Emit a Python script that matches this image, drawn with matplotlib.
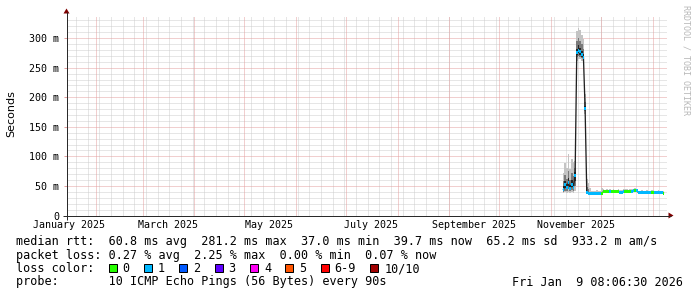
import matplotlib
matplotlib.use('Agg')
import matplotlib.pyplot as plt
import matplotlib.dates as mdates
from matplotlib.patches import Rectangle, Polygon
import pandas as pd
from datetime import datetime

W, H = 697, 297

# ---------------- data ----------------
t_start = datetime(2025, 1, 14, 8, 6, 30)
t_end = datetime(2026, 1, 9, 8, 6, 30)
first_sample = '2025-11-08 12:00'

median_ms = [44, 52, 47, 56, 45, 53, 48, 68,
             276, 280, 277, 273, 268, 181,
             39, 38, 37.7, 37.7, 37.7, 37.7, 37.7, 37.7, 37.7,
             38.0, 40.0, 40.2, 39.8, 40.1, 40.0, 40.3, 40.0, 39.8, 40.2, 40.0,
             39.6, 39.5, 39.8, 40.2, 40.4, 40.0, 40.3, 40.8, 41.5, 43.0, 41.5,
             39.2, 39.0, 39.0, 38.9, 39.0, 39.1, 39.0, 39.2, 39.5, 39.6,
             39.2, 39.3, 39.1, 39.4, 39.2, 38.0]
loss_bucket = [1, 1, 1, 1, 1, 1, 1, 1,
               1, 1, 1, 1, 1, 1,
               1, 1, 1, 1, 1, 1, 1, 1, 1,
               0, 0, 0, 0, 0, 1, 0, 0, 0, 0, 0,
               1, 1, 1, 0, 0, 0, 0, 1, 1, 0, 1,
               1, 1, 1, 1, 1, 1, 1, 1, 0, 0,
               1, 1, 1, 1, 1, 0]
smoke_outer_lo = [38, 39, 38, 40, 38, 39, 38, 42,
                  262, 265, 264, 262, 258, 172,
                  37, 37, 37, 37, 37, 37, 37, 37, 37,
                  37.5, 39.5, 39.7, 39.3, 39.6, 39.5, 39.8, 39.5, 39.3, 39.7, 39.5,
                  39.1, 39.0, 39.3, 39.7, 39.9, 39.5, 39.8, 40.3, 41.0, 42.5, 41.0,
                  38.7, 38.5, 38.5, 38.4, 38.5, 38.6, 38.5, 38.7, 39.0, 39.1,
                  38.7, 38.8, 38.6, 38.9, 38.7, 37.5]
smoke_outer_hi = [72, 88, 80, 104, 78, 96, 90, 92,
                  312, 318, 314, 305, 298, 205,
                  62, 55, 46, 41, 42, 41, 43, 41, 42,
                  46, 44, 43, 44, 43, 44, 43, 44, 43, 43, 44,
                  43, 43, 44, 44, 44, 43, 44, 44, 45, 47, 45,
                  42, 42, 43, 42, 42, 43, 42, 42, 43, 43,
                  42, 42, 43, 42, 42, 41]
smoke_mid_lo = [40, 42, 41, 44, 41, 43, 41, 50,
                268, 270, 268, 266, 262, 176,
                37.5, 37.2, 37.2, 37.2, 37.2, 37.2, 37.2, 37.2, 37.2,
                37.7, 39.7, 39.9, 39.5, 39.8, 39.7, 40.0, 39.7, 39.5, 39.9, 39.7,
                39.3, 39.2, 39.5, 39.9, 40.1, 39.7, 40.0, 40.5, 41.2, 42.7, 41.2,
                38.9, 38.7, 38.7, 38.6, 38.7, 38.8, 38.7, 38.9, 39.2, 39.3,
                38.9, 39.0, 38.8, 39.1, 38.9, 37.7]
smoke_mid_hi = [58, 68, 62, 75, 60, 72, 66, 80,
                295, 300, 296, 290, 282, 192,
                48, 44, 40, 38.5, 38.5, 38.5, 38.5, 38.5, 38.5,
                39.5, 41.2, 41.4, 41.0, 41.3, 41.2, 41.5, 41.2, 41.0, 41.4, 41.2,
                40.8, 40.7, 41.0, 41.4, 41.6, 41.2, 41.5, 42.0, 42.7, 44.2, 42.7,
                40.4, 40.2, 40.2, 40.1, 40.2, 40.3, 40.2, 40.4, 40.7, 40.8,
                40.4, 40.5, 40.3, 40.6, 40.4, 39.2]
smoke_inner_lo = [42, 47, 44, 50, 43, 48, 45, 58,
                  272, 275, 272, 269, 265, 178,
                  38, 37.5, 37.4, 37.5, 37.5, 37.5, 37.5, 37.5, 37.5,
                  37.8, 39.8, 40.0, 39.6, 39.9, 39.8, 40.1, 39.8, 39.6, 40.0, 39.8,
                  39.4, 39.3, 39.6, 40.0, 40.2, 39.8, 40.1, 40.6, 41.3, 42.8, 41.3,
                  39.0, 38.8, 38.8, 38.7, 38.8, 38.9, 38.8, 39.0, 39.3, 39.4,
                  39.0, 39.1, 38.9, 39.2, 39.0, 37.8]
smoke_inner_hi = [50, 58, 53, 64, 52, 60, 55, 74,
                  282, 288, 284, 279, 274, 185,
                  41, 39.5, 38.2, 38, 38, 38, 38, 38, 38,
                  38.3, 40.3, 40.5, 40.1, 40.4, 40.3, 40.6, 40.3, 40.1, 40.5, 40.3,
                  39.9, 39.8, 40.1, 40.5, 40.7, 40.3, 40.6, 41.1, 41.8, 43.3, 41.8,
                  39.5, 39.3, 39.3, 39.2, 39.3, 39.4, 39.3, 39.5, 39.8, 39.9,
                  39.5, 39.6, 39.4, 39.7, 39.5, 38.3]

y_max_ms = 338.4
y_ticks_ms = [0, 50, 100, 150, 200, 250, 300]
y_tick_labels = ['0', '50 m', '100 m', '150 m', '200 m', '250 m', '300 m']
x_label_dates = ['2025-01-16', '2025-03-16', '2025-05-16', '2025-07-16', '2025-09-16', '2025-11-16']
x_labels = ['January 2025', 'March 2025', 'May 2025', 'July 2025', 'September 2025', 'November 2025']

loss_names = ['0', '1', '2', '3', '4', '5', '6-9', '10/10']
loss_colors = ['#26ff00', '#00b8ff', '#0059ff', '#5e00ff', '#ff00f5', '#ff5500', '#ff0000', '#a00000']

legend_rtt = 'median rtt:  60.8 ms avg  281.2 ms max  37.0 ms min  39.7 ms now  65.2 ms sd  933.2 m am/s'
legend_loss = 'packet loss: 0.27 % avg  2.25 % max  0.00 % min  0.07 % now'
legend_color = 'loss color:'
legend_probe = 'probe:       10 ICMP Echo Pings (56 Bytes) every 90s'
stamp = 'Fri Jan  9 08:06:30 2026'
watermark = 'RRDTOOL / TOBI OETIKER'

# ---------------- styling ----------------
MONO = 'DejaVu Sans Mono'
MGRID = '#e4a0a0'
GRID = '#cecece'
AXIS = '#2a2a2a'
ARROW = '#7f0000'
PX = 0.72  # one pixel in points

fig = plt.figure(figsize=(W / 100, H / 100), dpi=100)
fig.patch.set_facecolor('white')
ax = fig.add_axes([66.5 / W, (H - 215.5) / H, 600 / W, 200 / H])
ax.set_facecolor('white')
for s in ax.spines.values():
    s.set_visible(False)
ax.set_xlim(t_start, t_end)
ax.set_ylim(0, y_max_ms)

# grid (1px dotted lines)
gkw = dict(lw=PX, ls=(0, (1, 1)))
for d in mdates.WeekdayLocator(byweekday=mdates.MO).tick_values(t_start, t_end):
    ax.axvline(d, color=GRID, zorder=1, **gkw)
for v in range(0, int(y_max_ms) + 1, 10):
    if v % 50:
        ax.axhline(v, color=GRID, zorder=1, **gkw)
for d in mdates.MonthLocator().tick_values(t_start, t_end):
    ax.axvline(d, color=MGRID, zorder=2, **gkw)
for v in y_ticks_ms[1:]:
    ax.axhline(v, color=MGRID, zorder=2, **gkw)

# data
dates = pd.date_range(first_sample, periods=len(median_ms), freq='D')
def band(lo, hi, color, z):
    ax.bar(dates, [h - l for l, h in zip(lo, hi)], bottom=lo, width=1.0,
           color=color, linewidth=0, zorder=z)
band(smoke_outer_lo, smoke_outer_hi, '#c4c4c4', 3)
band(smoke_mid_lo, smoke_mid_hi, '#7a7a7a', 4)
band(smoke_inner_lo, smoke_inner_hi, '#262626', 5)
ax.plot(dates, median_ms, color='#202020', lw=PX * 1.3, zorder=6)
sw = y_max_ms / 200 * 1.5
ax.bar(dates, 2 * sw, bottom=[m - sw for m in median_ms], width=1.0,
       color=[loss_colors[b] for b in loss_bucket], linewidth=0, zorder=7)

# ticks
ax.set_xticks(pd.to_datetime(x_label_dates))
ax.set_xticklabels(x_labels, fontfamily=MONO, fontsize=7.2)
ax.tick_params(axis='x', length=0, pad=3.4)
ax.set_yticks(y_ticks_ms)
ax.set_yticklabels(y_tick_labels, fontfamily=MONO, fontsize=7.2)
ax.tick_params(axis='y', length=2.2, width=PX, color=MGRID, pad=3.2)

# overlay in pixel coordinates
ov = fig.add_axes([0, 0, 1, 1], zorder=10)
ov.set_xlim(0, W)
ov.set_ylim(H, 0)
ov.axis('off')
ov.patch.set_alpha(0)

ov.plot([62.5, 670.5], [215.5, 215.5], color=AXIS, lw=PX, solid_capstyle='butt')
ov.plot([66.5, 66.5], [219.5, 11.5], color=AXIS, lw=PX, solid_capstyle='butt')
ov.add_patch(Polygon([[668.5, 212.5], [668.5, 218.5], [673.5, 215.5]], closed=True,
                     color=ARROW, lw=0))
ov.add_patch(Polygon([[63.5, 13.5], [69.5, 13.5], [66.5, 8.5]], closed=True,
                     color=ARROW, lw=0))

ov.text(11, 114, 'Seconds', rotation=90, ha='center', va='center',
        fontsize=8, fontfamily='DejaVu Sans')
ov.text(686, 5, watermark, rotation=270, ha='center', va='top',
        fontsize=6, fontfamily=MONO, color='#b8b8b8')

LF = 8.5
ov.text(16, 241, legend_rtt, fontfamily=MONO, fontsize=LF, va='center')
ov.text(16, 255, legend_loss, fontfamily=MONO, fontsize=LF, va='center')
ov.text(16, 268.5, legend_color, fontfamily=MONO, fontsize=LF, va='center')
ov.text(16, 282, legend_probe, fontfamily=MONO, fontsize=LF, va='center')
ov.text(683, 282, stamp, fontfamily=MONO, fontsize=LF, va='center', ha='right')

bx = 108.5
for name, col in zip(loss_names, loss_colors):
    ov.add_patch(Rectangle((bx, 264), 8, 8, facecolor=col, edgecolor='black', lw=PX))
    ov.text(bx + 14, 268.5, name, fontfamily=MONO, fontsize=LF, va='center')
    bx += 14 + 7.12 * (len(name) + 2)

fig.savefig('out.png', dpi=100, facecolor='white')
